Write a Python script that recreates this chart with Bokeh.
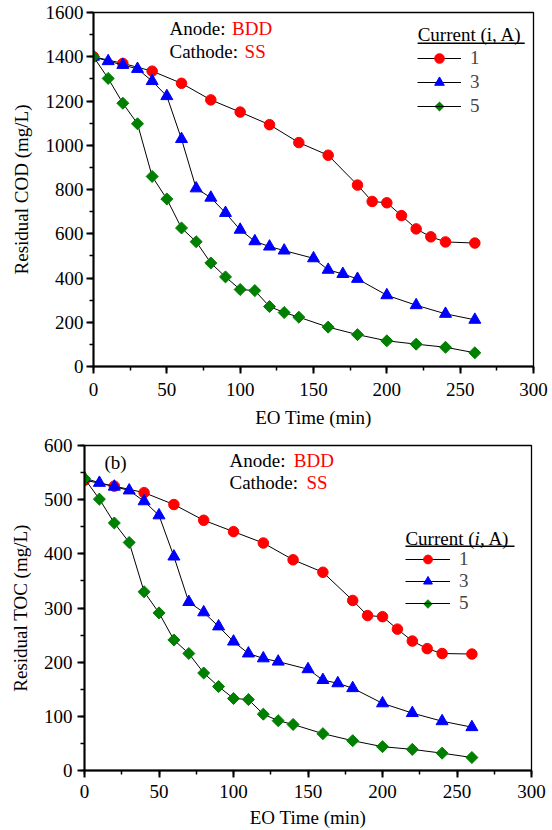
from bokeh.plotting import figure
from bokeh.models import (Label, Legend, LegendItem, BoxAnnotation, Range1d,
                          SingleIntervalTicker, PolyAnnotation)
from bokeh.embed import file_html
from bokeh.resources import INLINE
import math

# ---------------- data ----------------
t1 = [0, 20, 40, 60, 80, 100, 120, 140, 160, 180, 190, 200, 210, 220, 230, 240, 260]
t3 = [0, 10, 20, 30, 40, 50, 60, 70, 80, 90, 100, 110, 120, 130, 150, 160, 170, 180, 200, 220, 240, 260]
t5 = [0, 10, 20, 30, 40, 50, 60, 70, 80, 90, 100, 110, 120, 130, 140, 160, 180, 200, 220, 240, 260]

cod1 = [1400, 1370, 1335, 1280, 1205, 1150, 1093, 1012, 955, 820, 746, 740, 682, 622, 586, 563, 558]
cod3 = [1400, 1380, 1363, 1345, 1290, 1222, 1028, 805, 763, 694, 618, 566, 542, 524, 489, 437, 418,
        396, 322, 277, 238, 211]
cod5 = [1400, 1302, 1190, 1097, 859, 757, 626, 564, 468, 405, 348, 343, 271, 244, 223, 178, 144,
        116, 101, 87, 62]

toc1 = [536, 525, 513, 491, 462, 441, 420, 389, 366, 314, 286, 284, 261, 239, 225, 216, 215]
toc3 = [540, 531, 524, 517, 497, 471, 395, 311, 292, 266, 238, 216, 207, 201, 187, 167, 161, 152,
        124, 106, 91, 80]
toc5 = [539, 501, 457, 421, 330, 291, 241, 216, 180, 155, 133, 131, 104, 92, 85, 68, 55, 44, 39,
        32, 24]

series_labels = ["1", "3", "5"]
colors = ["#FF0000", "#0000FF", "#008000"]
x_label = "EO Time (min)"

FONT = "Liberation Serif"
FS = "19px"


def style_axes(p, y_interval):
    p.xaxis.ticker = SingleIntervalTicker(interval=50, num_minor_ticks=2)
    p.yaxis.ticker = SingleIntervalTicker(interval=y_interval, num_minor_ticks=2)
    for ax in (p.xaxis[0], p.yaxis[0]):
        ax.axis_line_width = 2
        ax.axis_line_color = "black"
        ax.major_tick_in = 0
        ax.major_tick_out = 7
        ax.minor_tick_in = 0
        ax.minor_tick_out = 4
        ax.major_tick_line_width = 2
        ax.minor_tick_line_width = 1.5
        ax.major_tick_line_color = "black"
        ax.minor_tick_line_color = "black"
        ax.major_label_text_font = FONT
        ax.major_label_text_font_size = FS
        ax.major_label_text_color = "black"
        ax.axis_label_text_font = FONT
        ax.axis_label_text_font_size = FS
        ax.axis_label_text_font_style = "normal"
        ax.axis_label_text_color = "black"
    p.yaxis.major_label_standoff = 3
    p.xgrid.grid_line_color = None
    p.ygrid.grid_line_color = None
    p.outline_line_color = "black"
    p.outline_line_width = 1.3
    p.outline_line_alpha = 1


def add_series(p, xs_list, ys_list):
    renderers = []
    markers = ["circle", "triangle", "square"]
    sizes = [10.5, 12, 8.5]
    angles = [0, 0, math.pi / 4]
    for xs, ys, m, s, a, c in zip(xs_list, ys_list, markers, sizes, angles, colors):
        ln = p.line(xs, ys, line_color="black", line_width=1)
        sc = p.scatter(xs, ys, marker=m, size=s, angle=a, fill_color=c, line_color=c)
        renderers.append([ln, sc])
    return renderers


def add_text(p, x, y, text, color="black", style="normal"):
    p.add_layout(Label(x=x, y=y, text=text, text_font=FONT, text_font_size=FS,
                       text_color=color, text_font_style=style, text_baseline="middle",
                       text_align="left"))


def legend_diamond(p, cx, cy, dx, dy):
    # diamond symbol drawn over the legend sample of series "5"
    p.add_layout(PolyAnnotation(xs=[cx - dx, cx, cx + dx, cx], ys=[cy, cy + dy, cy, cy - dy],
                                fill_color=colors[2], fill_alpha=1, line_color=colors[2],
                                line_width=1))


# ---------------- top: COD ----------------
p1 = figure(width=552, height=433,
            min_border_left=93, min_border_right=19, min_border_top=12, min_border_bottom=67,
            x_range=Range1d(0, 300), y_range=Range1d(0, 1600),
            output_backend="svg", toolbar_location=None,
            x_axis_label=x_label, y_axis_label="Residual COD (mg/L)")
style_axes(p1, 200)
p1.xaxis.major_label_standoff = 9
p1.xaxis.axis_label_standoff = 8
p1.yaxis.axis_label_standoff = 11
r1 = add_series(p1, [t1, t3, t5], [cod1, cod3, cod5])

add_text(p1, 51.8, 1526, "Anode:")
add_text(p1, 94.5, 1526, "BDD", "#FF0000")
add_text(p1, 51.8, 1422, "Cathode:")
add_text(p1, 103, 1422, "SS", "#FF0000")
add_text(p1, 221, 1501, "Current (i, A)")
p1.add_layout(BoxAnnotation(left=221, right=294, bottom=1458, top=1464,
                            fill_color="black", fill_alpha=1, line_color=None))

items1 = [LegendItem(label=series_labels[0], renderers=r1[0]),
          LegendItem(label=series_labels[1], renderers=r1[1]),
          LegendItem(label=series_labels[2], renderers=[r1[2][0]])]
leg1 = Legend(items=items1,
              location=(324, 248), padding=0, margin=0, spacing=0,
              glyph_width=44, glyph_height=24, label_height=24, label_standoff=9,
              label_text_font=FONT, label_text_font_size=FS,
              border_line_color=None, background_fill_alpha=0)
p1.add_layout(leg1)
legend_diamond(p1, 235.9, 1175, 3.3, 21.7)

# ---------------- bottom: TOC ----------------
p2 = figure(width=552, height=397,
            min_border_left=84, min_border_right=21, min_border_top=12, min_border_bottom=59,
            x_range=Range1d(0, 300), y_range=Range1d(0, 600),
            output_backend="svg", toolbar_location=None,
            x_axis_label=x_label, y_axis_label="Residual TOC (mg/L)")
style_axes(p2, 100)
p2.xaxis.major_label_standoff = 7
p2.xaxis.axis_label_standoff = 6
p2.yaxis.major_label_standoff = 5
p2.yaxis.axis_label_standoff = 10
r2 = add_series(p2, [t1, t3, t5], [toc1, toc3, toc5])

add_text(p2, 13.4, 569, "(b)")
add_text(p2, 97.3, 572, "Anode:")
add_text(p2, 140.5, 572, "BDD", "#FF0000")
add_text(p2, 97.3, 532, "Cathode:")
add_text(p2, 149, 532, "SS", "#FF0000")
add_text(p2, 215.4, 428.6, "Current (")
add_text(p2, 261.7, 428.6, "i", style="italic")
add_text(p2, 265.4, 428.6, ", A)")
p2.add_layout(BoxAnnotation(left=215.4, right=288.6, bottom=412.8, top=415.2,
                            fill_color="black", fill_alpha=1, line_color=None))

items2 = [LegendItem(label=series_labels[0], renderers=r2[0]),
          LegendItem(label=series_labels[1], renderers=r2[1]),
          LegendItem(label=series_labels[2], renderers=[r2[2][0]])]
leg2 = Legend(items=items2,
              location=(321, 156), padding=0, margin=0, spacing=0,
              glyph_width=45, glyph_height=22, label_height=22, label_standoff=9,
              label_text_font=FONT, label_text_font_size=FS,
              border_line_color=None, background_fill_alpha=0)
p2.add_layout(leg2)
legend_diamond(p2, 230.5, 307.4, 3.0, 8.3)

# two independent roots stacked on the page (no shared frame alignment)
open("out.html", "w").write(file_html([p1, p2], INLINE))
